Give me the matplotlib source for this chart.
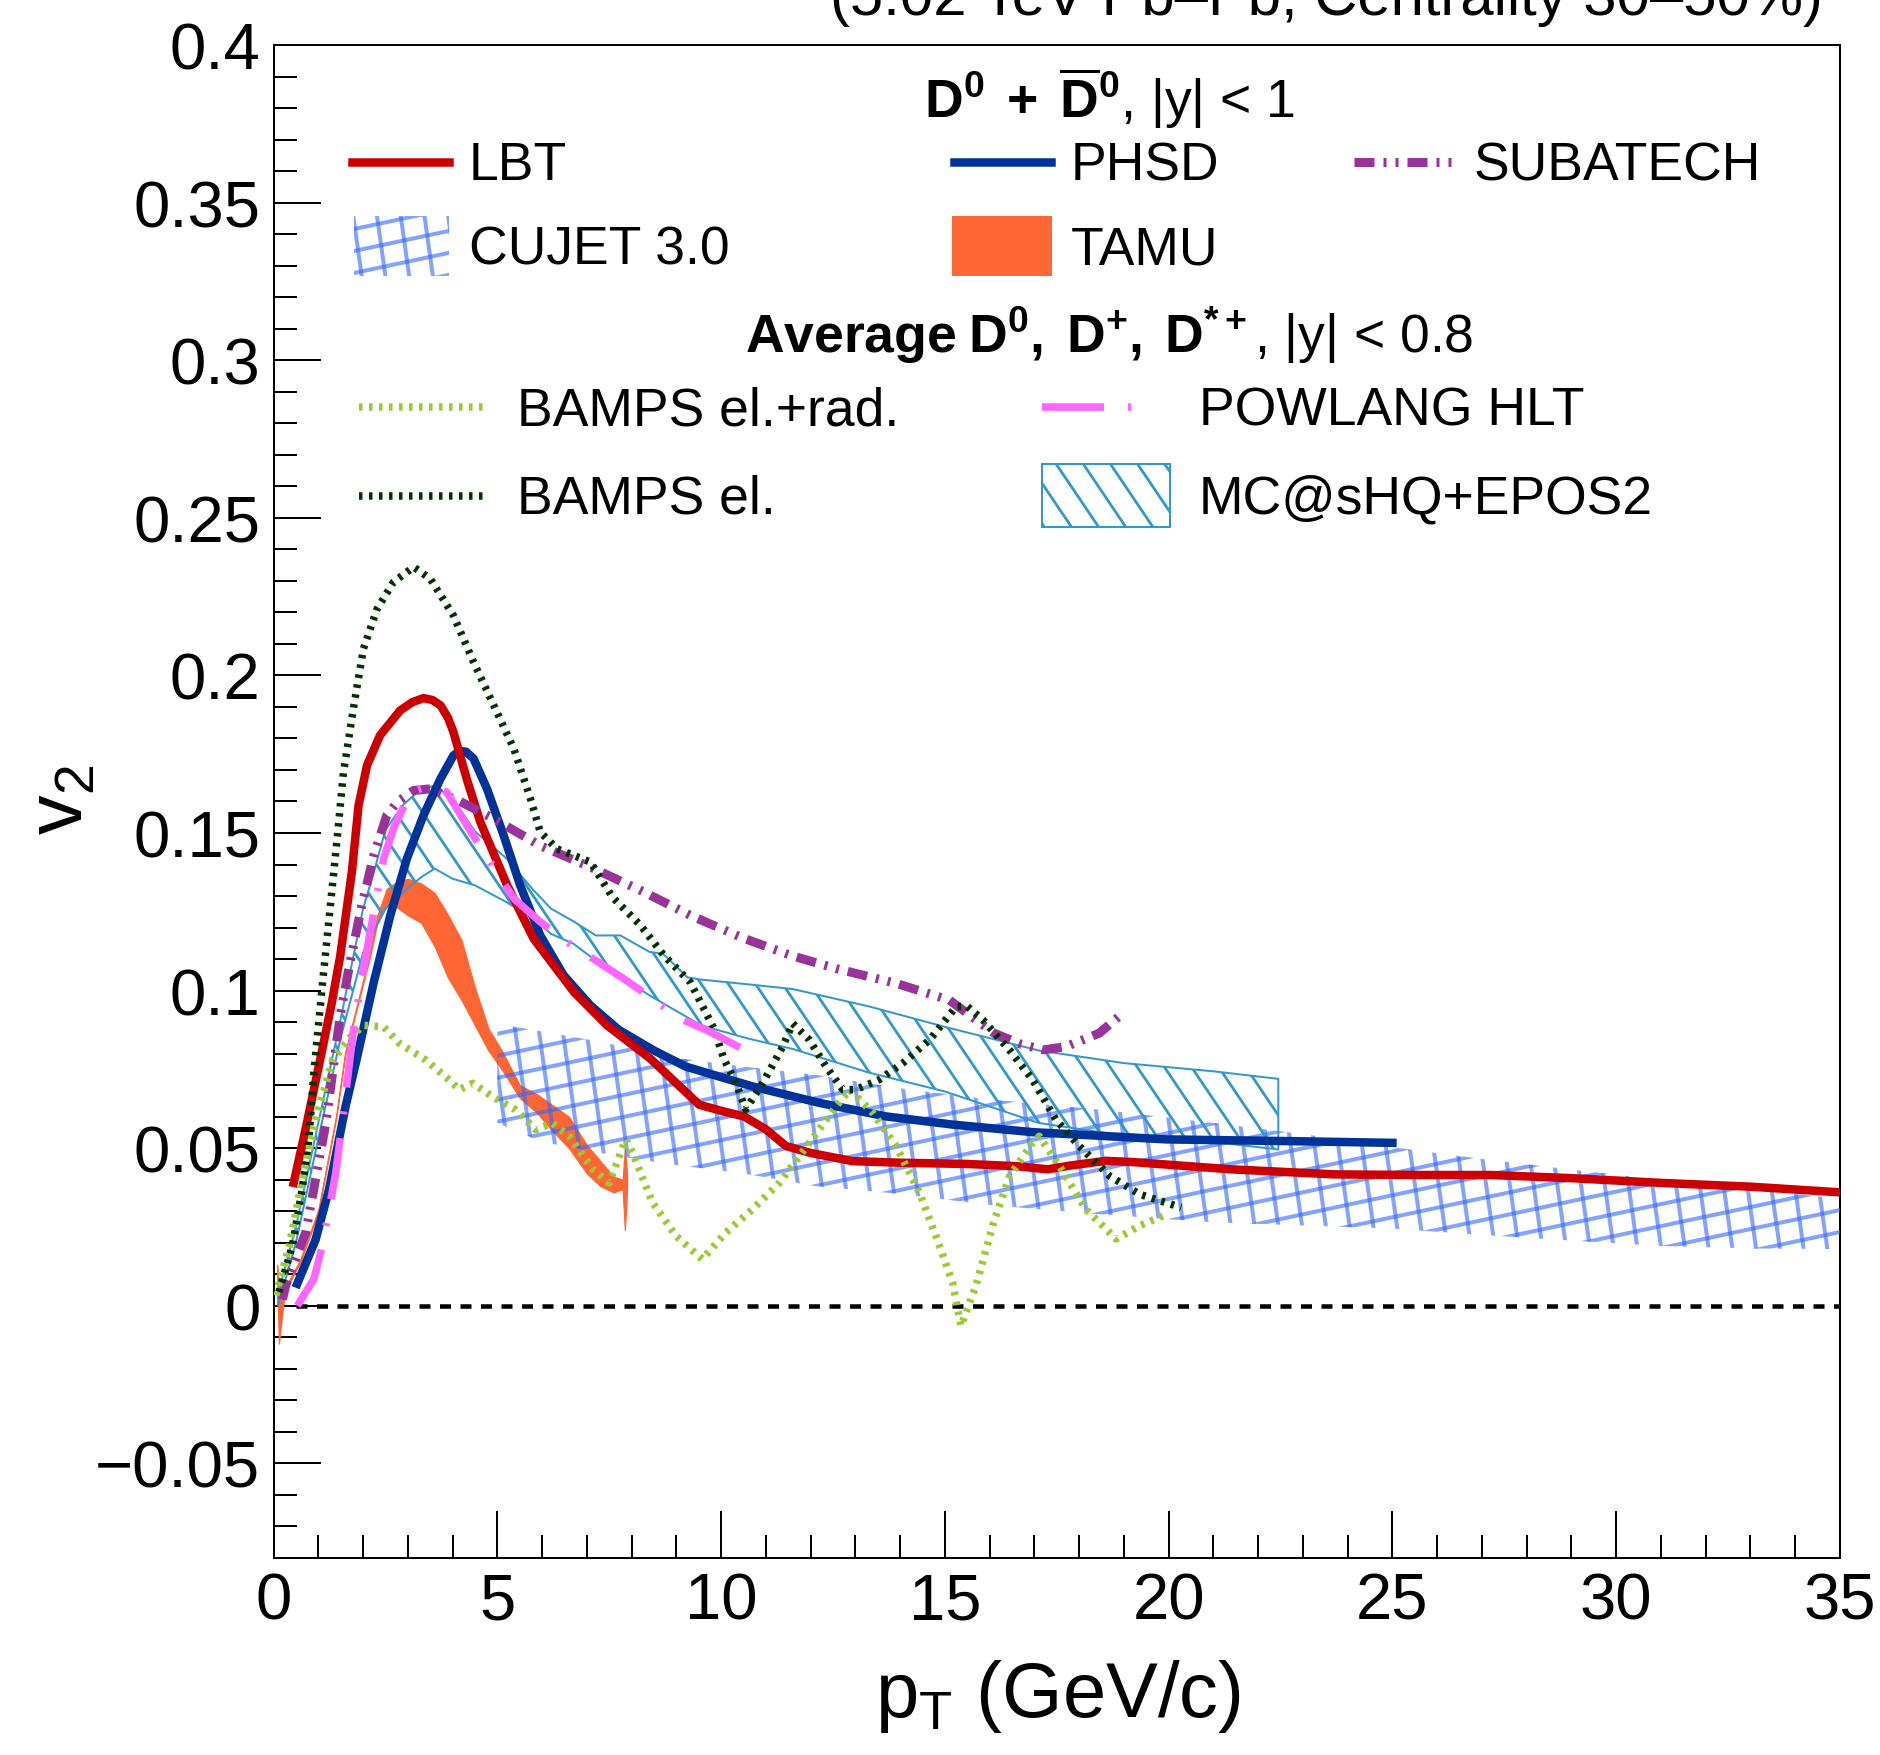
import numpy as np
import matplotlib
matplotlib.use("Agg")
import matplotlib.pyplot as plt
from matplotlib.patches import Polygon
from matplotlib.collections import LineCollection
from matplotlib.transforms import IdentityTransform
from matplotlib.lines import Line2D

plt.rcParams['font.family'] = ['Liberation Sans', 'DejaVu Sans']
plt.rcParams['mathtext.fontset'] = 'custom'
plt.rcParams['mathtext.rm'] = 'Liberation Sans'
plt.rcParams['mathtext.it'] = 'Liberation Sans:italic'
plt.rcParams['mathtext.bf'] = 'Liberation Sans:bold'
plt.rcParams['mathtext.default'] = 'rm'
plt.rcParams['lines.scale_dashes'] = False
plt.rcParams['axes.unicode_minus'] = True

DPI = 100
PX = 72.0 / DPI  # points per pixel

# ---------------- data ----------------
lbt_pt = [0.45, 0.7, 1.04, 1.3, 1.49, 1.75, 1.9, 2.09, 2.38, 2.83, 3.1, 3.35, 3.55, 3.73, 3.9, 4.02,
          4.32, 4.62, 5.22, 5.81, 6.71, 7.45, 8.42, 9.51, 10.1, 10.51, 11.0, 11.45, 12.0, 12.94, 14.0,
          15.5, 16.6, 17.3, 17.8, 18.6, 19.2, 21.4, 23.7, 25.6, 27.2, 29.0, 31.0, 33.0, 35.0]
lbt_v2 = [0.039, 0.055, 0.078, 0.096, 0.111, 0.1376, 0.1588, 0.1715, 0.181, 0.1889, 0.1915, 0.1928,
          0.1922, 0.1905, 0.1865, 0.182, 0.167, 0.1535, 0.1334, 0.1165, 0.0996, 0.089, 0.0784, 0.0638,
          0.0615, 0.0601, 0.056, 0.0507, 0.0485, 0.0459, 0.0454, 0.0450, 0.0443, 0.0433, 0.0445,
          0.046, 0.0456, 0.0433, 0.0417, 0.0415, 0.0415, 0.0405, 0.039, 0.0378, 0.036]

phsd_pt = [0.53, 0.94, 1.24, 1.61, 1.86, 2.24, 2.61, 2.98, 3.35, 3.73, 4.02, 4.15, 4.3, 4.47, 4.77,
           5.14, 5.51, 5.96, 6.48, 7.08, 7.72, 8.5, 9.21, 10.7, 12.19, 13.68, 15.17, 16.96, 19.95,
           22.93, 25.0]
phsd_v2 = [0.007, 0.021, 0.037, 0.0633, 0.0784, 0.1027, 0.1239, 0.1419, 0.1556, 0.1672, 0.1746, 0.176,
           0.1758, 0.1736, 0.164, 0.1493, 0.1334, 0.1175, 0.1049, 0.0953, 0.0875, 0.081, 0.0759,
           0.0696, 0.0644, 0.0601, 0.0575, 0.0551, 0.0528, 0.0522, 0.0517]

sub_pt = [0.2, 0.27, 0.72, 0.94, 1.17, 1.49, 1.71, 1.97, 2.24, 2.53, 2.76, 3.13, 3.5, 4.17, 4.92, 5.96,
          7.08, 8.2, 9.31, 10.43, 11.55, 12.57, 13.91, 15.1, 16.1, 16.7, 17.2, 17.7, 18.45, 18.97]
sub_v2 = [0.002, 0.0064, 0.0233, 0.0402, 0.058, 0.0922, 0.109, 0.127, 0.1429, 0.1556, 0.1598, 0.1635,
          0.164, 0.160, 0.1545, 0.146, 0.1392, 0.1318, 0.1239, 0.117, 0.1112, 0.107, 0.1023, 0.097,
          0.0865, 0.083, 0.0812, 0.0822, 0.0865, 0.0928]

cujet_pt = [5, 6, 7.3, 8.8, 10.5, 12.1, 14, 16, 18.5, 21, 23, 25, 27, 29, 31, 33, 35]
cujet_hi = [0.0895, 0.087, 0.0838, 0.079, 0.0759, 0.0733, 0.0690, 0.0655, 0.0622, 0.058, 0.0545,
            0.0503, 0.0466, 0.0432, 0.0400, 0.037, 0.034]
cujet_lo = [0.058, 0.052, 0.0485, 0.045, 0.0420, 0.038, 0.0355, 0.032, 0.0290, 0.0265, 0.0255,
            0.0245, 0.0225, 0.0207, 0.0190, 0.0182, 0.0180]

tamu_pt = [0.08, 0.12, 0.25, 0.6, 1.0, 1.4, 1.6, 1.9, 2.16, 2.31, 2.53, 2.7, 3.0, 3.3, 3.6, 3.9, 4.2,
           4.5, 4.8, 5.1, 5.5, 5.9, 6.2, 6.6, 7.0, 7.3, 7.6, 7.8, 7.85, 7.9]
tamu_hi = [0.013, 0.006, 0.0055, 0.0148, 0.0305, 0.0605, 0.0805, 0.0975, 0.1125, 0.1235, 0.1323, 0.134,
           0.1355, 0.134, 0.131, 0.124, 0.116, 0.101, 0.088, 0.081, 0.070, 0.067, 0.064, 0.060, 0.051,
           0.046, 0.041, 0.040, 0.050, 0.042]
tamu_lo = [0.010, -0.012, 0.0045, 0.0138, 0.0295, 0.0595, 0.0795, 0.0965, 0.111, 0.121, 0.127, 0.127,
           0.1239, 0.1215, 0.114, 0.104, 0.097, 0.089, 0.081, 0.075, 0.066, 0.061, 0.056, 0.050, 0.042,
           0.038, 0.036, 0.037, 0.024, 0.037]

bampsr_pt = [0.05, 0.35, 0.64, 0.94, 1.32, 1.7, 2.01, 2.46, 2.81, 3.4, 3.92, 4.15, 4.45, 4.89, 5.41,
             5.86, 6.23, 6.61, 7.13, 7.5, 7.87, 8.02, 8.47, 8.99, 9.58, 10.11, 10.7, 11.3, 11.97, 12.57,
             12.87, 13.39, 13.91, 14.43, 14.8, 15.17, 15.36, 15.7, 16.07, 16.44, 16.96, 17.11, 17.56,
             18.15, 18.83, 19.35, 19.95]
bampsr_v2 = [0.0033, 0.019, 0.040, 0.059, 0.078, 0.085, 0.089, 0.0885, 0.0833, 0.078, 0.0717, 0.0686,
             0.0706, 0.0664, 0.0622, 0.0559, 0.058, 0.0538, 0.0433, 0.039, 0.0528, 0.0486, 0.0327,
             0.0222, 0.0148, 0.0233, 0.0306, 0.039, 0.0517, 0.0633, 0.0686, 0.0612, 0.0507, 0.036,
             0.0222, 0.0075, -0.0064, 0.0066, 0.0256, 0.0410, 0.0517, 0.0538, 0.0443, 0.0306, 0.0212,
             0.0254, 0.029]

bampse_pt = [0.12, 0.42, 0.64, 0.79, 0.9, 1.12, 1.27, 1.42, 1.56, 1.79, 2.01, 2.31, 2.68, 3.13, 3.5,
             4.02, 4.47, 4.92, 5.37, 5.74, 5.96, 6.33, 7.08, 7.57, 8.2, 8.72, 9.31, 9.84, 10.06, 10.33,
             10.55, 10.93, 11.38, 11.6, 11.97, 12.34, 12.72, 13.01, 13.54, 14.06, 14.66, 15.25, 15.5,
             15.85, 16.44, 16.96, 17.48, 18.0, 18.68, 19.35, 20.28]
bampse_v2 = [0.0044, 0.019, 0.037, 0.053, 0.074, 0.106, 0.127, 0.148, 0.169, 0.190, 0.2085, 0.221,
             0.2296, 0.2344, 0.2307, 0.219, 0.2042, 0.1905, 0.1767, 0.1609, 0.1503, 0.145, 0.1408,
             0.1297, 0.1207, 0.1112, 0.1027, 0.088, 0.0784, 0.0707, 0.0623, 0.0707, 0.0823, 0.0896,
             0.0844, 0.076, 0.0686, 0.0686, 0.0718, 0.077, 0.0844, 0.0949, 0.0950, 0.0907, 0.0812,
             0.0717, 0.0591, 0.0507, 0.0412, 0.0354, 0.0312]

pow_pt = [0.53, 0.9, 1.09, 1.39, 1.58, 1.79, 2.01, 2.46, 2.68, 3.06, 3.5, 3.87, 4.32, 4.84, 5.37, 5.96,
          6.56, 7.15, 7.82, 8.57, 9.09, 9.76, 10.6]
pow_v2 = [0.0, 0.0085, 0.019, 0.0422, 0.0633, 0.088, 0.107, 0.1419, 0.1514, 0.163, 0.165, 0.163,
          0.1524, 0.1408, 0.1292, 0.1218, 0.1154, 0.110, 0.1038, 0.0964, 0.0911, 0.0869, 0.0806]

mc_pt = [0.1, 0.5, 1.0, 1.5, 2.0, 2.25, 2.5, 2.9, 3.3, 3.6, 4.0, 4.5, 5.2, 5.8, 6.2, 6.7, 7.2, 7.75,
         8.4, 8.7, 9.25, 9.55, 10.6, 11.6, 13.3, 15.0, 17.1, 19.0, 21.0, 22.45]
mc_hi = [0.004, 0.025, 0.058, 0.091, 0.126, 0.138, 0.151, 0.159, 0.164, 0.165, 0.161, 0.1505, 0.142,
         0.132, 0.126, 0.122, 0.1175, 0.1175, 0.1123, 0.1117, 0.1042, 0.1035, 0.102, 0.1005, 0.095,
         0.0885, 0.081, 0.077, 0.0744, 0.072]
mc_lo = [0.0, 0.02, 0.053, 0.085, 0.112, 0.119, 0.126, 0.1313, 0.136, 0.1387, 0.1355, 0.1334, 0.1281,
         0.1228, 0.118, 0.1149, 0.1095, 0.1045, 0.0985, 0.096, 0.0915, 0.089, 0.0848, 0.0815, 0.074,
         0.068, 0.058, 0.054, 0.052, 0.0496]

zero_x = [0.5, 35.0]
zero_y = [0.0, 0.0]

x_ticks = [0, 5, 10, 15, 20, 25, 30, 35]
x_ticklabels = ["0", "5", "10", "15", "20", "25", "30", "35"]
y_ticks = [-0.05, 0.0, 0.05, 0.1, 0.15, 0.2, 0.25, 0.3, 0.35, 0.4]
y_ticklabels = ["\u22120.05", "0", "0.05", "0.1", "0.15", "0.2", "0.25", "0.3", "0.35", "0.4"]

# ---------------- styles ----------------
C_LBT = '#cc0000'
C_PHSD = '#003399'
C_SUB = '#993399'
C_CUJET = '#3366ff'
C_TAMU = '#ff6633'
C_BR = '#99cc33'
C_BE = '#003300'
C_POW = '#ff66ff'
C_MC = '#3399cc'

def dpx(*v):
    return (0, tuple(x * PX for x in v))

LS_SUB = dpx(20, 9, 3, 9, 3, 9)
LS_BAMPS = dpx(3.5, 6.5)
LS_POW = dpx(62, 24, 3, 24)
LS_ZERO = dpx(11, 9.5)

LW_SUB = 9
LW_BAMPS = 7.5

fig = plt.figure(figsize=(18.8, 17.56), dpi=DPI)
ax = fig.add_axes([0.1455, 0.1122, 0.8332, 0.8616])
ax.set_xlim(0, 35)
ax.set_ylim(-0.08, 0.4)


def add_hatch(ax, patch, families, color, lw, alpha, zorder):
    verts = patch.get_verts()
    xmin, ymin = verts.min(axis=0)
    xmax, ymax = verts.max(axis=0)
    cx, cy = (xmin + xmax) / 2, (ymin + ymax) / 2
    R = np.hypot(xmax - xmin, ymax - ymin) / 2 + 40
    segs = []
    for ang, sp in families:
        t = np.deg2rad(ang)
        d = np.array([np.cos(t), np.sin(t)])
        n = np.array([-np.sin(t), np.cos(t)])
        pc = cx * n[0] + cy * n[1]
        k0 = int(np.floor((pc - R) / sp))
        k1 = int(np.ceil((pc + R) / sp))
        for k in range(k0, k1 + 1):
            p = np.array([cx, cy]) + (k * sp - pc) * n
            segs.append([p - R * d, p + R * d])
    lc = LineCollection(segs, colors=color, linewidths=lw * PX, alpha=alpha,
                        transform=IdentityTransform(), zorder=zorder, capstyle='butt')
    lc.set_clip_path(patch)
    ax.add_collection(lc, autolim=False)
    return lc


def band_polygon(x, lo, hi, transform, **kw):
    x = np.asarray(x, float)
    xy = np.column_stack([np.concatenate([x, x[::-1]]),
                          np.concatenate([np.asarray(hi, float), np.asarray(lo, float)[::-1]])])
    return Polygon(xy, closed=True, transform=transform, **kw)


def box_polygon(x0, y0, w, h, transform, **kw):
    xy = [[x0, y0], [x0 + w, y0], [x0 + w, y0 + h], [x0, y0 + h]]
    return Polygon(xy, closed=True, transform=transform, **kw)

# zero line
ax.plot(zero_x, zero_y, color='black', lw=4.5 * PX, linestyle=LS_ZERO, zorder=1)

# TAMU band
ax.fill_between(tamu_pt, tamu_lo, tamu_hi, facecolor=C_TAMU, edgecolor=C_TAMU,
                linewidth=1.2 * PX, zorder=2)

# CUJET hatched band
cujet_poly = band_polygon(cujet_pt, cujet_lo, cujet_hi, ax.transData, fill=False, edgecolor='none')
CUJET_FAM = [(12, 21.5), (-82, 23.5)]
add_hatch(ax, cujet_poly, CUJET_FAM, C_CUJET, 4.0, 0.6, 3)

# MC@sHQ+EPOS2 band
mc_poly = band_polygon(mc_pt, mc_lo, mc_hi, ax.transData, fill=False, edgecolor=C_MC,
                       linewidth=2 * PX, zorder=4)
ax.add_patch(mc_poly)
MC_FAM = [(-56, 22.5)]
add_hatch(ax, mc_poly, MC_FAM, C_MC, 2.8, 1.0, 4)

# curves
ax.plot(phsd_pt, phsd_v2, color=C_PHSD, lw=8.5 * PX, zorder=5, solid_joinstyle='round')
ax.plot(lbt_pt, lbt_v2, color=C_LBT, lw=8.5 * PX, zorder=6, solid_joinstyle='round')
ax.plot(sub_pt, sub_v2, color=C_SUB, lw=LW_SUB * PX, linestyle=LS_SUB, zorder=7)
ax.plot(bampsr_pt, bampsr_v2, color=C_BR, lw=LW_BAMPS * PX, linestyle=LS_BAMPS, zorder=8)
ax.plot(bampse_pt, bampse_v2, color=C_BE, lw=LW_BAMPS * PX, linestyle=LS_BAMPS, zorder=8)
ax.plot(pow_pt, pow_v2, color=C_POW, lw=7.5 * PX, linestyle=LS_POW, zorder=9)

# ---------------- axes styling ----------------
for s in ax.spines.values():
    s.set_linewidth(2 * PX)
ax.set_xticks(x_ticks)
ax.set_xticklabels(x_ticklabels)
ax.set_xticks(np.arange(0, 36, 1), minor=True)
ax.set_yticks(y_ticks)
ax.set_yticklabels(y_ticklabels)
ax.set_yticks(np.round(np.arange(-0.08, 0.4001, 0.01), 3), minor=True)
ax.tick_params(which='both', direction='in', top=False, right=False, width=2 * PX,
               labelsize=47, pad=9.5)
ax.tick_params(which='major', length=47 * PX)
ax.tick_params(which='minor', length=23 * PX)

# axis titles
fig.text(62 / 1880, 1 - 800 / 1756, r"$v_{2}$", rotation=90, ha='center', va='center', fontsize=57)
fig.text(1058 / 1880, 1 - 1717 / 1756, r"$p_{T}$ (GeV/c)", ha='center', va='baseline', fontsize=56)
fig.text(1823 / 1880, 1 - 15 / 1756, "(5.02 TeV Pb\u2013Pb, Centrality 30\u201350%)",
         ha='right', va='baseline', fontsize=43)

# ---------------- legend ----------------
T = ax.transAxes
FS = 38.5
ax.text(0.5337, 0.9524, r"$\mathbf{D^{0}\;+\;\overline{D}^{0}}$, |y| < 1", transform=T,
        ha='center', va='baseline', fontsize=FS)
ax.text(0.5334, 0.7971, r"$\mathbf{Average\;D^{0},\;D^{+},\;D^{*+}}$, |y| < 0.8", transform=T,
        ha='center', va='baseline', fontsize=FS)

ax.add_line(Line2D([0.0501, 0.112], [0.9230, 0.9230], transform=T, color=C_LBT, lw=8.5 * PX))
ax.text(0.1248, 0.9114, "LBT", transform=T, va='baseline', fontsize=FS)
ax.add_line(Line2D([0.4344, 0.4963], [0.9230, 0.9230], transform=T, color=C_PHSD, lw=8.5 * PX))
ax.text(0.5091, 0.9114, "PHSD", transform=T, va='baseline', fontsize=FS)
ax.add_line(Line2D([0.6897, 0.7535], [0.9230, 0.9230], transform=T, color=C_SUB, lw=LW_SUB * PX,
                   linestyle=LS_SUB))
ax.text(0.7663, 0.9114, "SUBATECH", transform=T, va='baseline', fontsize=FS)

cu_box = box_polygon(0.0514, 0.8473, 0.0606, 0.0397, T, fill=False, edgecolor='none')
add_hatch(ax, cu_box, CUJET_FAM, C_CUJET, 4.0, 0.6, 3)
ax.text(0.1248, 0.8553, "CUJET 3.0", transform=T, va='baseline', fontsize=FS)
ax.add_patch(box_polygon(0.433, 0.8473, 0.064, 0.0397, T, facecolor=C_TAMU, edgecolor='none'))
ax.text(0.5091, 0.8553, "TAMU", transform=T, va='baseline', fontsize=FS)

ax.add_line(Line2D([0.0546, 0.1356], [0.7607, 0.7607], transform=T, color=C_BR, lw=LW_BAMPS * PX,
                   linestyle=LS_BAMPS))
ax.text(0.1554, 0.7495, "BAMPS el.+rad.", transform=T, va='baseline', fontsize=FS)
ax.add_line(Line2D([0.0546, 0.1356], [0.7019, 0.7019], transform=T, color=C_BE, lw=LW_BAMPS * PX,
                   linestyle=LS_BAMPS))
ax.text(0.1554, 0.6913, "BAMPS el.", transform=T, va='baseline', fontsize=FS)
ax.add_line(Line2D([0.4906, 0.5582], [0.7607, 0.7607], transform=T, color=C_POW, lw=7.5 * PX,
                   linestyle=LS_POW))
ax.text(0.5908, 0.7495, "POWLANG HLT", transform=T, va='baseline', fontsize=FS)
mc_box = box_polygon(0.4906, 0.6814, 0.0816, 0.0417, T, fill=False, edgecolor=C_MC,
                     linewidth=2 * PX)
ax.add_patch(mc_box)
add_hatch(ax, mc_box, MC_FAM, C_MC, 2.8, 1.0, 4)
ax.text(0.5908, 0.6913, "MC@sHQ+EPOS2", transform=T, va='baseline', fontsize=FS)

fig.savefig("out.png", dpi=DPI)
